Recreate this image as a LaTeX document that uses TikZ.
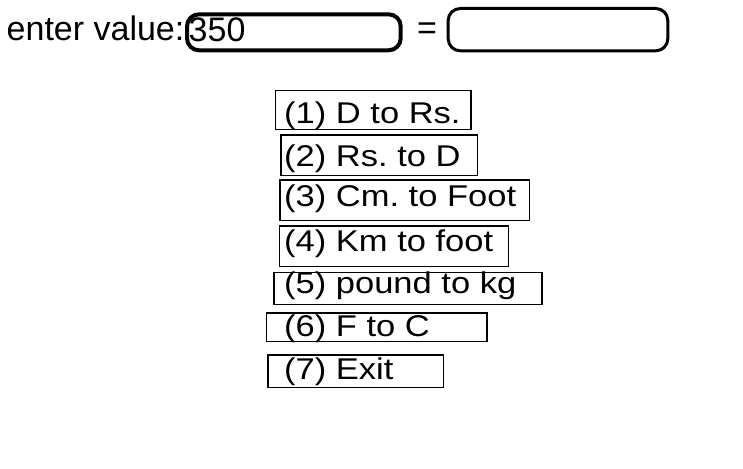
\documentclass[tikz,border=0pt]{standalone}
\usepackage{fontspec}
\setmainfont{Liberation Sans}
\newfontfamily\btnfont[FakeStretch=1.15]{Liberation Sans}
\frenchspacing
\begin{document}
\begin{tikzpicture}[x=1pt,y=-1pt,
  lbl/.style={anchor=base west,inner sep=0pt,font=\fontsize{34}{40}\selectfont},
  field/.style={draw,rounded corners=12pt},
  btn/.style={anchor=base west,inner sep=0pt,font=\btnfont\fontsize{30}{36}\selectfont},
  btnbox/.style={draw,line width=1.3pt}]
  \useasboundingbox (0,0) rectangle (743,468);

  %% input line
  \node at (6.5,41) [lbl] (prompt) {enter value:};
  \draw[field,line width=4pt] (187,14.3) rectangle (400.7,50.3);
  \node at (188.5,42) [lbl] (invalue) {350};
  \node at (427,31) [lbl,anchor=center] (equals) {=};
  \draw[field,line width=3pt] (448.2,8.5) rectangle (667.8,50.8);

  %% menu boxes
  \draw[btnbox] (275.6,90.6) rectangle (471,129.7);
  \draw[btnbox] (281,135) rectangle (477.7,175.3);
  \draw[btnbox] (280,180) rectangle (529.7,220.7);
  \draw[btnbox] (279.7,226) rectangle (508.7,266.7);
  \draw[btnbox] (274,272.2) rectangle (542,304.3);
  \draw[btnbox] (266.7,313) rectangle (487,341.7);
  \draw[btnbox] (268,355) rectangle (443.7,387.3);

  %% menu entries
  \node at (284,123) [btn] (opt1) {(1) D to Rs.};
  \node at (284,166) [btn] (opt2) {(2) Rs. to D};
  \node at (284,206.7) [btn] (opt3) {(3) Cm. to Foot};
  \node at (284,251.3) [btn] (opt4) {(4) Km to foot};
  \node at (284,293) [btn] (opt5) {(5) pound to kg};
  \node at (284,336.7) [btn] (opt6) {(6) F to C};
  \node at (284,379.3) [btn] (opt7) {(7) Exit};
\end{tikzpicture}
\end{document}
